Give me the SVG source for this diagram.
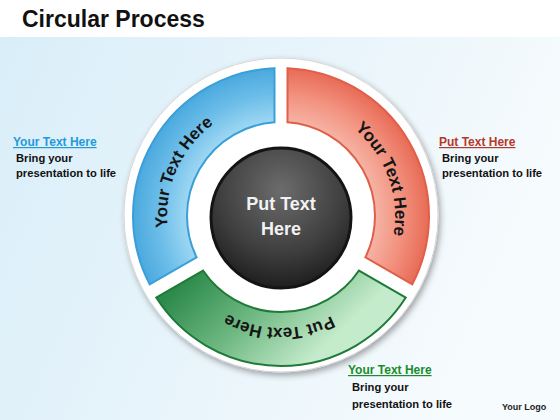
<svg xmlns="http://www.w3.org/2000/svg" width="560" height="420" viewBox="0 0 560 420">
  <style>
    .title { font-family: "Liberation Sans", Arial, sans-serif; font-weight: bold; font-size: 23px; fill: #111; }
    .seg-text { font-family: "Liberation Sans", Arial, sans-serif; font-weight: bold; font-size: 17px; fill: #151515; }
    .center-text { font-family: "Liberation Sans", Arial, sans-serif; font-weight: bold; font-size: 18px; fill: #f2f2f2; }
    .head { font-family: "Liberation Sans", Arial, sans-serif; font-weight: bold; font-size: 12px; text-decoration: underline; }
    .body { font-family: "Liberation Sans", Arial, sans-serif; font-weight: bold; font-size: 11.2px; fill: #111; }
    .logo { font-family: "Liberation Sans", Arial, sans-serif; font-weight: bold; font-size: 9px; fill: #222; }
  </style>
  <defs>
    <linearGradient id="bg" x1="0" y1="0" x2="1" y2="0.3">
      <stop offset="0" stop-color="#d9eef9"/>
      <stop offset="0.6" stop-color="#eaf5fb"/>
      <stop offset="1" stop-color="#f6fbfd"/>
    </linearGradient>
    <radialGradient id="gBlue" gradientUnits="userSpaceOnUse" cx="281" cy="216" r="148">
      <stop offset="0.63" stop-color="#a0d8f3"/>
      <stop offset="0.82" stop-color="#6dbee9"/>
      <stop offset="1" stop-color="#4ba9de"/>
    </radialGradient>
    <radialGradient id="gRed" gradientUnits="userSpaceOnUse" cx="281" cy="216" r="148">
      <stop offset="0.63" stop-color="#f6b4a6"/>
      <stop offset="0.82" stop-color="#f2917e"/>
      <stop offset="1" stop-color="#e86b56"/>
    </radialGradient>
    <linearGradient id="gGreen" gradientUnits="userSpaceOnUse" x1="200" y1="265" x2="300" y2="370">
      <stop offset="0" stop-color="#2c8a4b"/>
      <stop offset="0.5" stop-color="#6fb882"/>
      <stop offset="1" stop-color="#c4ebcb"/>
    </linearGradient>
    <radialGradient id="gDark" cx="0.5" cy="0.3" r="0.75">
      <stop offset="0" stop-color="#6c6c6c"/>
      <stop offset="0.6" stop-color="#3e3e3e"/>
      <stop offset="1" stop-color="#181818"/>
    </radialGradient>
    <filter id="shadow" x="-10%" y="-10%" width="125%" height="125%">
      <feDropShadow dx="2" dy="3" stdDeviation="3" flood-color="#000" flood-opacity="0.35"/>
    </filter>
    <path id="arcBlue" d="M217.25,310.51 A114,114 0 0,1 308.58,105.39" fill="none"/>
    <path id="arcRed" d="M261.20,103.73 A114,114 0 0,1 338,314.73" fill="none"/>
    <path id="arcGreen" d="M388.98,238.99 A110,110 0 0,1 172.35,235.21" fill="none"/>
  </defs>

  <g id="background">
    <rect x="0" y="0" width="560" height="420" fill="#ffffff"/>
    <rect x="0" y="37" width="560" height="383" fill="url(#bg)"/>
  </g>

  <g id="title">
    <text class="title" x="22" y="27">Circular Process</text>
  </g>

  <g id="backing-disc">
    <circle cx="281" cy="215" r="157" fill="#ffffff" stroke="#d8d8d8" stroke-width="1" filter="url(#shadow)"/>
  </g>

  <g id="seg-blue">
    <path d="M149.70,284.29 A148,148 0 0,1 274.49,68.14 L274.49,122.23 A94,94 0 0,0 196.54,257.26 Z" fill="url(#gBlue)" stroke="#3a9fd8" stroke-width="2"/>
    <text class="seg-text"><textPath href="#arcBlue" startOffset="50%" text-anchor="middle">Your Text Here</textPath></text>
  </g>

  <g id="seg-red">
    <path d="M287.51,68.14 A148,148 0 0,1 412.30,284.29 L365.46,257.26 A94,94 0 0,0 287.51,122.23 Z" fill="url(#gRed)" stroke="#e05f49" stroke-width="2"/>
    <text class="seg-text"><textPath href="#arcRed" startOffset="50%" text-anchor="middle">Your Text Here</textPath></text>
  </g>

  <g id="seg-green">
    <path d="M405.79,297.57 A148,148 0 0,1 156.21,297.57 L203.04,270.53 A94,94 0 0,0 358.96,270.53 Z" fill="url(#gGreen)" stroke="#1f7a3a" stroke-width="2"/>
    <text class="seg-text"><textPath href="#arcGreen" startOffset="50%" text-anchor="middle">Put Text Here</textPath></text>
  </g>

  <g id="center">
    <circle cx="281" cy="218" r="70" fill="url(#gDark)" stroke="#141414" stroke-width="3"/>
    <text class="center-text" x="281" y="210" text-anchor="middle">Put Text</text>
    <text class="center-text" x="281" y="235" text-anchor="middle">Here</text>
  </g>

  <g id="label-left">
    <text class="head" x="13" y="146" fill="#1f9ad9">Your Text Here</text>
    <text class="body" x="16" y="162">Bring your</text>
    <text class="body" x="16" y="177">presentation to life</text>
  </g>

  <g id="label-right">
    <text class="head" x="439" y="146" fill="#b5392a">Put Text Here</text>
    <text class="body" x="442" y="162">Bring your</text>
    <text class="body" x="442" y="177">presentation to life</text>
  </g>

  <g id="label-bottom">
    <text class="head" x="348" y="374" fill="#1a8c2c">Your Text Here</text>
    <text class="body" x="352" y="391">Bring your</text>
    <text class="body" x="352" y="408">presentation to life</text>
  </g>

  <g id="logo">
    <text class="logo" x="502" y="410">Your Logo</text>
  </g>
</svg>
